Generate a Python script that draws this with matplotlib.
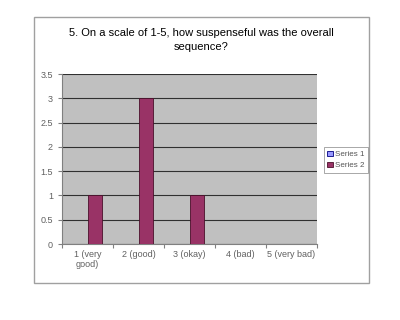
import numpy as np
import matplotlib.pyplot as plt
from matplotlib.patches import Rectangle

categories = ['1 (very\ngood)', '2 (good)', '3 (okay)', '4 (bad)', '5 (very bad)']
series1 = [0, 0, 0, 0, 0]
series2 = [1, 3, 1, 0, 0]
title = '5. On a scale of 1-5, how suspenseful was the overall\nsequence?'

plt.rcParams['font.family'] = ['Liberation Sans', 'DejaVu Sans']

W, H = 400, 320
fig = plt.figure(figsize=(W / 100, H / 100), dpi=100)
fig.patch.set_facecolor('white')

# outer chart border
fig.patches.append(Rectangle((34 / W, 1 - 283 / H), (369 - 34) / W, (283 - 17) / H,
                             transform=fig.transFigure, fill=False,
                             edgecolor='#a0a0a0', linewidth=1.0))

ax = fig.add_axes([62 / W, 1 - 244 / H, (317 - 62) / W, (244 - 74) / H])
ax.set_facecolor('#c0c0c0')

x = np.arange(len(categories))
bw = 1 / 3.5
ax.bar(x - bw / 2, series1, bw, color='#9999ff', edgecolor='#000080', linewidth=0.6,
       label='Series 1', zorder=3)
ax.bar(x + bw / 2, series2, bw, color='#993366', edgecolor='#4a0f2a', linewidth=0.6,
       label='Series 2', zorder=3)

ax.set_xlim(-0.5, len(categories) - 0.5)
ax.set_ylim(0, 3.5)
ax.set_yticks(np.arange(0, 3.51, 0.5))
ax.set_yticklabels(['0', '0.5', '1', '1.5', '2', '2.5', '3', '3.5'])
ax.yaxis.grid(True, color='#303030', linewidth=0.8, zorder=1)
ax.set_axisbelow(True)

ax.set_xticks(np.arange(-0.5, len(categories), 1), minor=False)
ax.set_xticklabels([])
ax.set_xticks(x, minor=True)
ax.set_xticklabels(categories, minor=True, fontsize=6.5, color='#606060')
ax.tick_params(axis='x', which='major', length=3, color='#808080')
ax.tick_params(axis='x', which='minor', length=0, pad=4)
ax.tick_params(axis='y', length=3, color='#808080', labelsize=6.5, labelcolor='#606060')

for s in ['top', 'right']:
    ax.spines[s].set_visible(False)
for s in ['left', 'bottom']:
    ax.spines[s].set_color('#808080')
    ax.spines[s].set_linewidth(0.8)

fig.text(201 / W, 1 - 40 / H, title, ha='center', va='center', fontsize=8,
         linespacing=1.6)

leg = fig.legend(loc='center left', bbox_to_anchor=(324 / W, 1 - 160 / H),
                 fontsize=5.8, frameon=True, fancybox=False, handlelength=0.7,
                 handleheight=0.7, handletextpad=0.25, borderpad=0.4,
                 labelspacing=0.45, borderaxespad=0)
leg.get_frame().set_edgecolor('#808080')
leg.get_frame().set_linewidth(0.6)
for t in leg.get_texts():
    t.set_color('#555555')

fig.savefig('out.png', dpi=100)
